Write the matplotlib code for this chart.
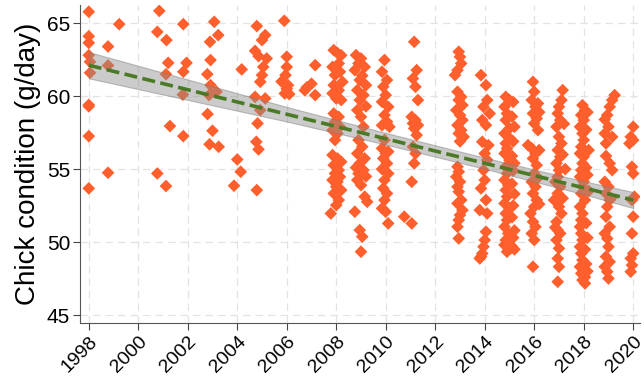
import matplotlib
matplotlib.use("Agg")
import matplotlib.pyplot as plt
import numpy as np

# chick condition (g/day) by season date
early_x = [1998.0, 1998.0, 1998.0, 1998.0, 1998.05, 1998.05, 1998.0, 1998.0, 1998.0, 1998.0, 1998.78, 1998.78, 1998.78, 1999.23,
           2000.85, 2000.77, 2001.14, 2001.21, 2001.12, 2001.28, 2000.77, 2001.12,
           2001.82, 2001.95, 2001.82, 2001.8, 2001.82,
           2003.07, 2003.23, 2002.9, 2002.92, 2002.79, 2002.92, 2003.16, 2002.86, 2002.8, 2003.0, 2002.88, 2003.25,
           2004.18, 2004.0, 2004.14, 2003.87,
           2004.79, 2005.13, 2005.0, 2004.72, 2004.86, 2005.19, 2005.05, 2005.0, 2004.93, 2004.72, 2005.13, 2004.93, 2004.82, 2004.77, 2004.86, 2004.79,
           2005.9, 2006.0, 2006.0, 2005.95, 2005.79, 2006.05, 2005.92, 2006.1, 2006.0,
           2007.15, 2006.81, 2007.0, 2007.15, 2006.73]
early_y = [65.78, 64.1, 63.65, 62.8, 62.35, 61.6, 59.4, 59.3, 57.26, 53.68, 63.4, 62.1, 54.75, 64.93,
           65.84, 64.4, 63.84, 62.28, 61.5, 57.95, 54.7, 53.84,
           64.93, 62.28, 61.67, 60.1, 57.26,
           65.09, 64.18, 63.72, 62.47, 61.5, 60.75, 60.3, 60.07, 58.77, 57.63, 56.7, 56.53,
           61.83, 55.66, 54.82, 53.86,
           64.8, 64.18, 63.84, 63.1, 62.74, 62.58, 62.0, 61.44, 60.98, 59.95, 59.84, 59.04, 58.13, 56.87, 56.35, 53.56,
           65.16, 62.7, 62.0, 61.44, 61.0, 60.75, 60.18, 60.14, 60.5,
           62.12, 60.6, 60.85, 60.07, 60.4]

s2008_x = [2007.9, 2008.05, 2008.2, 2008.1, 2007.85, 2008.15, 2007.95, 2008.25, 2007.9, 2008.1,
           2007.85, 2008.0, 2008.2, 2007.9, 2008.1, 2007.95, 2008.15, 2007.85, 2008.05, 2007.95,
           2007.85, 2008.05, 2008.2, 2007.9, 2008.1, 2007.95, 2008.15, 2007.85, 2008.05, 2008.0,
           2008.2, 2007.9, 2008.1, 2008.0, 2007.78]
s2008_y = [63.15, 62.95, 62.8, 62.24, 62.0, 61.67, 61.44, 60.98, 60.75, 60.4,
           60.18, 59.84, 59.73, 58.81, 58.58, 58.24, 57.9, 57.67, 57.44, 56.99,
           55.96, 55.73, 55.5, 55.27, 54.93, 54.7, 54.47, 54.25, 54.13, 53.79,
           53.56, 53.33, 52.88, 52.53, 51.96]

s2009_x = [2008.8, 2009.0, 2008.9, 2009.15, 2008.75, 2009.05, 2008.95, 2009.2, 2008.85, 2009.1,
           2008.95, 2009.2, 2008.85, 2009.0, 2009.1, 2008.9, 2009.05, 2008.85, 2009.15, 2008.95,
           2008.8, 2009.1, 2008.9, 2009.2, 2008.85, 2009.0, 2009.15, 2009.25, 2008.75, 2008.95,
           2009.05, 2009.0]
s2009_y = [62.81, 62.58, 62.24, 62.0, 61.78, 61.4, 61.1, 60.75, 60.41, 60.07,
           59.73, 59.3, 59.04, 58.58, 57.9, 56.99, 56.53, 56.07, 55.73, 55.39,
           55.1, 54.93, 54.7, 54.5, 54.25, 53.9, 53.11, 52.76, 52.08, 50.82,
           50.37, 49.34]

s2010_x = [2009.95, 2009.85, 2010.05, 2009.9, 2010.0, 2009.85, 2010.1, 2009.95, 2010.05, 2009.85,
           2010.15, 2009.95, 2009.85, 2010.1, 2010.0, 2009.9, 2010.05, 2009.85, 2010.1, 2009.95,
           2009.9, 2010.05, 2009.95, 2009.85, 2010.0, 2010.1]
s2010_y = [62.47, 61.67, 61.1, 60.64, 60.07, 59.61, 59.27, 58.7, 58.24, 58.0,
           57.9, 56.99, 56.42, 56.2, 56.07, 55.73, 55.39, 55.0, 54.7, 54.25,
           53.68, 53.33, 52.88, 52.31, 52.08, 51.28]

s2011_x = [2011.15, 2011.25, 2011.1, 2011.2, 2011.3, 2011.05, 2011.2, 2011.1, 2011.3, 2011.15,
           2011.25, 2011.1, 2011.2, 2011.15, 2011.05, 2010.75, 2011.05]
s2011_y = [63.72, 61.78, 61.21, 60.64, 59.73, 58.58, 58.36, 58.13, 58.01, 57.79,
           57.33, 56.53, 56.07, 55.39, 54.13, 51.74, 51.28]

s2013_x = [2012.95, 2013.0, 2013.05, 2012.9, 2012.8, 2012.9, 2013.05, 2012.95, 2013.1, 2012.85,
           2013.0, 2013.1, 2012.9, 2013.05, 2012.95, 2013.15, 2013.0, 2012.9, 2012.95, 2012.85,
           2013.0, 2012.9, 2012.95, 2013.05, 2012.9, 2013.1, 2013.0, 2012.95, 2012.9, 2012.95]
s2013_y = [63.04, 62.69, 62.24, 61.78, 61.44, 60.3, 59.95, 59.73, 59.38, 59.04,
           58.7, 58.36, 58.01, 57.67, 57.44, 57.21, 56.9, 55.16, 54.82, 54.47,
           54.13, 53.79, 53.45, 52.88, 52.65, 52.19, 51.85, 51.51, 51.05, 50.25]

s2014_x = [2013.85, 2014.05, 2014.1, 2013.95, 2014.2, 2013.9, 2014.05, 2013.9, 2014.15, 2014.0,
           2014.1, 2013.95, 2014.0, 2013.85, 2014.05, 2013.8, 2014.1, 2014.05, 2014.0, 2013.95,
           2013.9, 2013.85, 2013.8]
s2014_y = [61.44, 60.75, 59.73, 59.27, 58.81, 58.36, 58.01, 56.87, 56.64, 56.07,
           55.62, 54.93, 54.25, 53.68, 52.88, 52.19, 51.96, 50.71, 50.14, 49.68,
           49.22, 49.0, 48.88]

s2015_x = [2014.85, 2015.0, 2014.8, 2014.9, 2014.85, 2015.0, 2014.8, 2014.95, 2014.85, 2014.9,
           2014.8, 2015.0, 2014.85, 2014.9, 2014.8, 2014.95, 2014.85, 2014.9, 2014.8, 2015.0,
           2014.85, 2014.9, 2014.8, 2014.95, 2014.85, 2014.8, 2015.05, 2014.9,
           2015.15, 2015.1, 2015.2, 2015.15, 2015.1, 2015.2, 2015.15, 2015.1, 2015.2, 2015.15,
           2015.1, 2015.2, 2015.15, 2015.1, 2015.2]
s2015_y = [59.95, 59.73, 59.27, 58.81, 58.36, 57.79, 57.44, 57.21, 56.76, 56.42,
           56.07, 55.62, 55.16, 54.7, 54.25, 53.9, 53.56, 53.11, 52.65, 52.31,
           51.96, 51.51, 51.05, 50.59, 50.14, 49.8, 49.57, 49.34,
           59.6, 58.6, 57.9, 56.9, 55.9, 55.4, 54.9, 54.0, 53.3, 52.5,
           51.7, 50.8, 50.3, 49.7, 49.5]

s2016_x = [2015.95, 2016.0, 2015.9, 2016.05, 2015.95, 2016.1, 2016.0, 2016.15, 2015.75, 2015.9,
           2016.05, 2015.95, 2016.1, 2016.0, 2015.9, 2016.05, 2015.95, 2016.1, 2016.0, 2015.85,
           2015.95, 2016.05, 2015.9, 2016.0, 2015.95, 2016.15, 2016.2, 2016.2, 2016.15, 2016.2]
s2016_y = [60.98, 60.3, 59.73, 59.27, 58.81, 58.47, 58.13, 57.67, 56.64, 56.42,
           56.07, 55.73, 55.27, 54.7, 54.13, 53.79, 53.33, 52.88, 52.42, 51.96,
           51.39, 51.05, 50.59, 50.14, 48.31, 59.5, 58.9, 56.3, 54.4, 52.6]

s2017_x = [2017.15, 2017.1, 2017.0, 2016.95, 2017.05, 2016.9, 2017.0, 2017.1, 2016.95, 2017.05,
           2016.9, 2017.0, 2016.95, 2016.85, 2017.05, 2016.95, 2016.8, 2017.0, 2017.1, 2016.9,
           2016.95, 2017.05, 2016.9, 2017.0, 2016.95, 2017.0, 2016.95, 2017.2, 2017.15, 2017.25,
           2017.15, 2016.85]
s2017_y = [60.41, 59.73, 59.27, 58.81, 58.36, 57.9, 57.21, 56.76, 56.3, 55.84,
           55.39, 54.93, 54.47, 54.13, 53.79, 53.33, 52.88, 52.42, 51.96, 51.39,
           50.82, 50.59, 50.14, 49.57, 48.88, 48.31, 47.28, 58.1, 56.0, 55.0,
           53.0, 51.0]

s2018_x = [2017.95, 2018.05, 2017.9, 2018.0, 2017.85, 2017.95, 2018.0, 2017.9, 2017.85, 2018.0,
           2017.95, 2017.9, 2017.85, 2018.0, 2017.95, 2017.9, 2018.05, 2017.85, 2017.95, 2017.9,
           2017.85, 2017.9, 2017.95, 2017.85, 2017.9, 2017.95, 2017.85, 2017.9, 2017.95, 2018.05,
           2018.15, 2018.1, 2018.2, 2018.1, 2018.15, 2018.2, 2018.1, 2018.15, 2018.05, 2018.1,
           2018.15, 2018.05]
s2018_y = [59.38, 59.04, 58.7, 58.36, 57.9, 57.44, 56.99, 56.53, 56.07, 55.84,
           55.39, 54.93, 54.47, 54.13, 53.79, 53.33, 52.88, 52.42, 51.96, 51.51,
           51.05, 50.59, 50.14, 49.68, 49.22, 48.77, 48.31, 47.85, 47.4, 47.17,
           58.9, 57.7, 56.3, 55.1, 54.6, 53.5, 51.3, 50.3, 49.5, 48.5,
           48.0, 47.6]

s2019_x = [2019.25, 2019.15, 2019.05, 2018.95, 2019.0, 2018.85, 2019.15, 2018.9, 2019.05, 2019.15,
           2018.85, 2019.0, 2018.9, 2019.05, 2018.95, 2018.9, 2019.05, 2018.85, 2018.95, 2019.0,
           2018.9, 2019.05, 2018.85, 2018.95, 2019.0, 2018.85, 2018.9, 2019.1]
s2019_y = [60.07, 59.73, 59.27, 58.7, 57.9, 57.44, 57.21, 56.76, 55.39, 54.93,
           54.13, 53.79, 53.33, 52.88, 52.42, 51.74, 51.05, 50.59, 50.25, 49.68,
           49.0, 48.65, 48.31, 47.97, 47.51, 58.4, 55.9, 53.0]

s2020_x = [2020.0, 2019.9, 2020.0, 2019.85, 2019.95, 2020.0, 2020.05, 2019.95, 2020.0, 2019.95,
           2020.0, 2019.9, 2019.95, 2019.9]
s2020_y = [57.9, 57.21, 56.99, 56.76, 55.16, 54.7, 53.11, 52.88, 51.74, 50.59,
           49.22, 48.88, 48.42, 47.97]

# fitted trend and its confidence band
trend_x = [1998, 2002, 2006, 2010, 2014, 2018, 2020]
trend_y = [62.12, 60.44, 58.76, 57.08, 55.40, 53.72, 52.88]
band_lo = [61.22, 59.74, 58.26, 56.68, 55.02, 53.27, 52.33]
band_hi = [63.02, 61.14, 59.26, 57.48, 55.78, 54.17, 53.43]

year_ticks = list(range(1998, 2021, 2))
cond_ticks = [45, 50, 55, 60, 65]

plt.rcParams["font.family"] = ["Liberation Sans", "DejaVu Sans"]

all_x = np.concatenate([early_x, s2008_x, s2009_x, s2010_x, s2011_x, s2013_x, s2014_x,
                        s2015_x, s2016_x, s2017_x, s2018_x, s2019_x, s2020_x])
all_y = np.concatenate([early_y, s2008_y, s2009_y, s2010_y, s2011_y, s2013_y, s2014_y,
                        s2015_y, s2016_y, s2017_y, s2018_y, s2019_y, s2020_y])

fig = plt.figure(figsize=(6.44, 3.77), dpi=100)
ax = fig.add_axes([0.124, 0.143, 0.87, 0.844])

ax.scatter(all_x, all_y, marker="D", s=42, color="#FF5F2C", edgecolors="none", zorder=2)
ax.fill_between(trend_x, band_lo, band_hi, color="#8c8c8c", alpha=0.45,
                edgecolor="#7a7a7a", linewidth=0.8, zorder=3)
ax.plot(trend_x, trend_y, color="#4B7A26", linewidth=2.6, dashes=(3.6, 1.5), zorder=4)

ax.set_xlim(1997.64, 2020.28)
ax.set_ylim(44.45, 66.25)
ax.set_xticks(year_ticks)
ax.set_yticks(cond_ticks)
ax.set_xticklabels([str(y) for y in year_ticks], rotation=45, ha="right",
                   rotation_mode="anchor", fontsize=14)
ax.tick_params(axis="y", labelsize=15, pad=2)
ax.tick_params(axis="x", pad=2)
ax.tick_params(length=5, color="#444444")
ax.set_ylabel("Chick condition (g/day)", fontsize=20, labelpad=4)

ax.grid(True, color="#e3e3e3", linestyle=(0, (6, 4)), linewidth=0.9, zorder=0)
ax.set_axisbelow(True)
for side in ["top", "right"]:
    ax.spines[side].set_visible(False)
for side in ["left", "bottom"]:
    ax.spines[side].set_color("#555555")

fig.savefig("out.png", dpi=100)
